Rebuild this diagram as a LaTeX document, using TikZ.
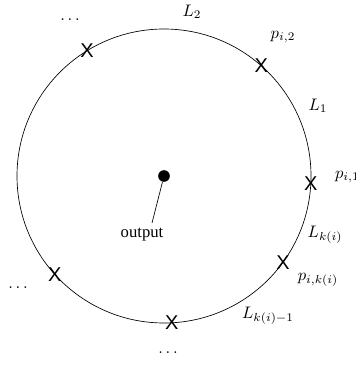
\documentclass[tikz,border=0pt]{standalone}
\usepackage{fontspec}
\setmainfont{Liberation Serif}
\newfontfamily\crossfont{Liberation Sans}
\usepackage{tikz}
\usetikzlibrary{positioning,calc}
\tikzset{
  ring/.style={draw=black, thin},
  cut/.style={font=\crossfont\fontsize{12}{14}\selectfont, inner sep=0pt},
  lab/.style={font=\normalsize, inner sep=1pt},
  hub/.style={circle, fill=black, inner sep=0pt, minimum size=7pt}
}

\begin{document}
\begin{tikzpicture}[x=0.6pt, y=0.6pt]
    \useasboundingbox (0,0) rectangle (356,367);
    \coordinate (c) at (164,191);
    \draw[ring] (c) circle (147);
    \node[hub] (out) at (c) {};
    \node[lab] (outtxt) at (142,132) {output};
    \coordinate (tail) at (152,144);
    \draw (out) -- (tail);
    % cut points on the ring
    \foreach \a/\n in {121.6/cA, 48.6/cB, -3/cC, -36/cD, -87/cE, -138/cF}
      \node[cut] (\n) at ($(c)+(\a:147)$) {X};
    % labels
    \node[lab] (l2) at (192,355) {$L_2$};
    \node[lab] (p2) at (283,330) {$p_{i,2}$};
    \node[lab] (l1) at (318,261) {$L_1$};
    \node[lab, anchor=west] (p1) at (333,190) {$p_{i,1}$};
    \node[lab] (lk) at (325,132) {$L_{k(i)}$};
    \node[lab] (pk) at (318,87) {$p_{i,k(i)}$};
    \node[lab] (lkm) at (268,51) {$L_{k(i)-1}$};
    \node[lab] (d1) at (70,347) {$\dots$};
    \node[lab] (d2) at (18,79) {$\dots$};
    \node[lab] (d3) at (168,14) {$\dots$};
\end{tikzpicture}
\end{document}
